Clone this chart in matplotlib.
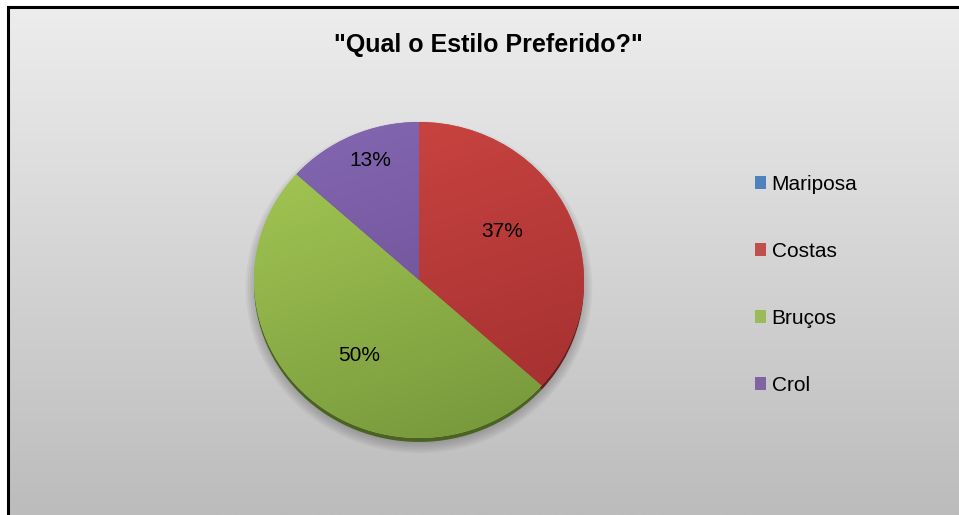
import numpy as np
import matplotlib
matplotlib.use('Agg')
import matplotlib.pyplot as plt
from matplotlib.colors import LinearSegmentedColormap, to_rgb
from matplotlib.patches import Patch, Circle

# ---- data ----
categories = ['Mariposa', 'Costas', 'Bruços', 'Crol']
values = [0, 11, 15, 4]
title = '"Qual o Estilo Preferido?"'

# ---- styles ----
base_colors = ['#4F81BD', '#C0504D', '#9BBB59', '#8064A2']
light_colors = ['#5B8FD0', '#CD4643', '#A8CB56', '#8468B2']
dark_colors = ['#3C6496', '#A02E2E', '#74953A', '#65478C']
rim_colors = ['#24406A', '#6A1C1C', '#4A6322', '#42305E']
label_dist = [0.6, 0.59, 0.60, 0.815]
label_angle_shift = [0, 7, 5, -2.6]

plt.rcParams['font.family'] = ['Liberation Sans', 'DejaVu Sans']

W, H = 959, 515
fig = plt.figure(figsize=(W / 100, H / 100), dpi=100)
fig.patch.set_facecolor('white')

# background panel with vertical gradient and frame
bg = fig.add_axes([0, 0, 1, 1])
grad = np.linspace(0, 1, 256).reshape(-1, 1)
bg_cmap = LinearSegmentedColormap.from_list('bg', ['#EDEDED', '#BCBCBC'])
bg.imshow(grad, cmap=bg_cmap, extent=(8, W, H, 7), aspect='auto', origin='upper')
bg.plot([8, 8], [H, 7], color='black', lw=2.2, solid_capstyle='projecting')
bg.plot([8, W], [7, 7], color='black', lw=2.2, solid_capstyle='projecting')
bg.set_xlim(0, W)
bg.set_ylim(H, 0)
bg.axis('off')

# pie axes
ax = fig.add_axes([254 / W, (H - 438) / H, 330 / W, 316 / H])

# soft shadow
for k in range(6):
    ax.add_patch(Circle((0, -0.045), 0.99 + 0.012 * k, facecolor='#555555',
                        alpha=0.07, edgecolor='none', zorder=0.5,
                        clip_on=False))

# rim (bevel) pie
rim_wedges, _ = ax.pie(values, colors=rim_colors, startangle=90,
                       counterclock=False, center=(0, -0.025),
                       wedgeprops=dict(linewidth=0))
for w in rim_wedges:
    w.set_clip_on(False)

# main pie
wedges, texts, autotexts = ax.pie(
    values, colors=base_colors, startangle=90, counterclock=False,
    autopct=lambda p: f'{p:.0f}%' if p > 0 else '',
    pctdistance=0.6, wedgeprops=dict(linewidth=0),
    textprops=dict(fontsize=15, color='black'))
for w in wedges:
    w.set_clip_on(False)

# gradient fill inside each wedge
N = 300
xs = np.linspace(-1, 1, N)
xx, yy = np.meshgrid(xs, xs)
t = np.clip((-yy + 0.35 * xx + 1.35) / 2.7, 0, 1)[..., None]
for i, w in enumerate(wedges):
    if values[i] <= 0:
        continue
    lc = np.array(to_rgb(light_colors[i]))
    dc = np.array(to_rgb(dark_colors[i]))
    img = lc * (1 - t) + dc * t
    im = ax.imshow(img, extent=(-1, 1, -1, 1), origin='lower', aspect='auto',
                   zorder=1.5)
    im.set_clip_path(w)

# reposition percentage labels
for i, (w, at) in enumerate(zip(wedges, autotexts)):
    mid = np.deg2rad((w.theta1 + w.theta2) / 2 + label_angle_shift[i])
    at.set_position((label_dist[i] * np.cos(mid), label_dist[i] * np.sin(mid)))
    at.set_zorder(5)

ax.set_aspect('auto')
ax.set_xlim(-1, 1)
ax.set_ylim(-1, 1)
ax.axis('off')

# title
fig.text(488 / W, 1 - 45 / H, title, ha='center', va='center',
         fontsize=18, fontweight='bold', color='black')

# legend
handles = [Patch(facecolor=c, edgecolor='none') for c in base_colors]
fig.legend(handles=handles, labels=categories, loc='center left',
           bbox_to_anchor=(755 / W, 1 - 285 / H), frameon=False,
           fontsize=15, handlelength=0.55, handleheight=0.55,
           handletextpad=0.25, labelspacing=2.3, borderpad=0,
           borderaxespad=0)

fig.savefig('out.png', dpi=100)
